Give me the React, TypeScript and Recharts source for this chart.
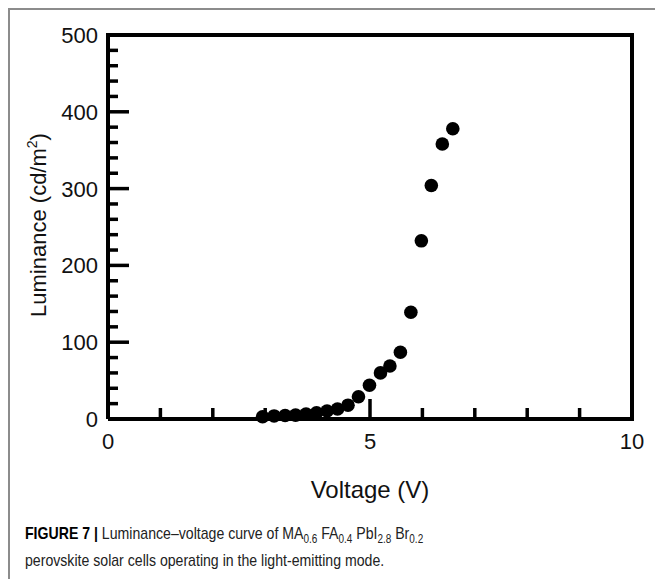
import { ScatterChart, Scatter, XAxis, YAxis, ReferenceLine } from "recharts";

// luminance-voltage readings
const voltage = [
  2.95, 3.17, 3.38, 3.58, 3.78, 3.98, 4.18, 4.38, 4.58, 4.78, 4.99, 5.2, 5.38,
  5.58, 5.78, 5.98, 6.17, 6.38, 6.58,
];
const luminance = [
  3, 4, 4.5, 5, 6.5, 8, 10.5, 13, 18, 29, 44, 60, 69, 87, 139, 232, 304, 358,
  378,
];

const xTicks = [0, 1, 2, 3, 4, 5, 6, 7, 8, 9, 10];
const xLabels = [0, 5, 10];
const yTicks = [
  0, 20, 40, 60, 80, 100, 120, 140, 160, 180, 200, 220, 240, 260, 280, 300,
  320, 340, 360, 380, 400, 420, 440, 460, 480, 500,
];
const yLabels = [0, 100, 200, 300, 400, 500];

const points = voltage.map((v, i) => ({ v, lum: luminance[i] }));

const FONT = "'Liberation Sans', Arial, Helvetica, sans-serif";

const XTick = (props: any) => {
  const { x, y, payload } = props;
  const major = xLabels.includes(payload.value);
  return (
    <g>
      <line x1={x} y1={y} x2={x} y2={y - (major ? 20 : 11)} stroke="#000" strokeWidth={3.5} />
      {major && (
        <text x={x} y={y + 30} textAnchor="middle" fontSize={22} fontFamily={FONT} fill="#111">
          {payload.value}
        </text>
      )}
    </g>
  );
};

const YTick = (props: any) => {
  const { x, y, payload } = props;
  const major = yLabels.includes(payload.value);
  return (
    <g>
      <line x1={x} y1={y} x2={x + (major ? 21 : 10)} y2={y} stroke="#000" strokeWidth={3.5} />
      {major && (
        <text x={x - 10} y={y + 8} textAnchor="end" fontSize={22} fontFamily={FONT} fill="#111">
          {payload.value}
        </text>
      )}
    </g>
  );
};

const Dot = (props: any) => <circle cx={props.cx} cy={props.cy} r={6.8} fill="#000" />;

const subStyle = { fontSize: 12, lineHeight: 0 };

export default function App() {
  return (
    <div
      style={{
        position: "absolute",
        left: 0,
        top: 0,
        width: 655,
        height: 579,
        background: "#fff",
        overflow: "hidden",
      }}
    >
      <div
        style={{
          position: "absolute",
          left: 8,
          top: 8,
          width: 660,
          height: 600,
          borderTop: "2px solid #8c8c8c",
          borderLeft: "2px solid #8c8c8c",
        }}
      />
      <div style={{ position: "absolute", left: 0, top: 0 }}>
        <ScatterChart
          width={655}
          height={520}
          margin={{ top: 35, right: 23, bottom: 0, left: 0 }}
        >
          <XAxis
            type="number"
            dataKey="v"
            domain={[0, 10]}
            ticks={xTicks}
            interval={0}
            height={101}
            tickSize={0}
            tickMargin={0}
            tickLine={false}
            tick={XTick}
            axisLine={{ stroke: "#000", strokeWidth: 4 }}
            label={{
              content: () => (
                <text x={370} y={498} textAnchor="middle" fontSize={24} fontFamily={FONT} fill="#111">
                  Voltage (V)
                </text>
              ),
            }}
          />
          <YAxis
            type="number"
            dataKey="lum"
            domain={[0, 500]}
            ticks={yTicks}
            interval={0}
            width={108}
            tickSize={0}
            tickMargin={0}
            tickLine={false}
            tick={YTick}
            axisLine={{ stroke: "#000", strokeWidth: 4 }}
            label={{
              content: () => (
                <text
                  transform="translate(46,225) rotate(-90)"
                  textAnchor="middle"
                  fontSize={22}
                  fontFamily={FONT}
                  fill="#111"
                >
                  Luminance (cd/m
                  <tspan dy={-9} fontSize={14}>
                    2
                  </tspan>
                  <tspan dy={9}>)</tspan>
                </text>
              ),
            }}
          />
          <ReferenceLine y={500} stroke="#000" strokeWidth={4} strokeLinecap="square" />
          <ReferenceLine x={10} stroke="#000" strokeWidth={4} strokeLinecap="square" />
          <Scatter data={points} shape={Dot} isAnimationActive={false} />
        </ScatterChart>
      </div>
      <div
        style={{
          position: "absolute",
          left: 25,
          top: 520,
          fontFamily: "'Liberation Sans', Arial, sans-serif",
          fontSize: 17,
          lineHeight: "27px",
          color: "#222",
          whiteSpace: "nowrap",
          transform: "scaleX(0.83)",
          transformOrigin: "left top",
        }}
      >
        <b style={{ color: "#000" }}>FIGURE 7 |</b> Luminance–voltage curve of MA
        <sub style={subStyle}>0.6</sub> FA
        <sub style={subStyle}>0.4</sub> PbI
        <sub style={subStyle}>2.8</sub> Br
        <sub style={subStyle}>0.2</sub>
        <br />
        perovskite solar cells operating in the light-emitting mode.
      </div>
    </div>
  );
}
